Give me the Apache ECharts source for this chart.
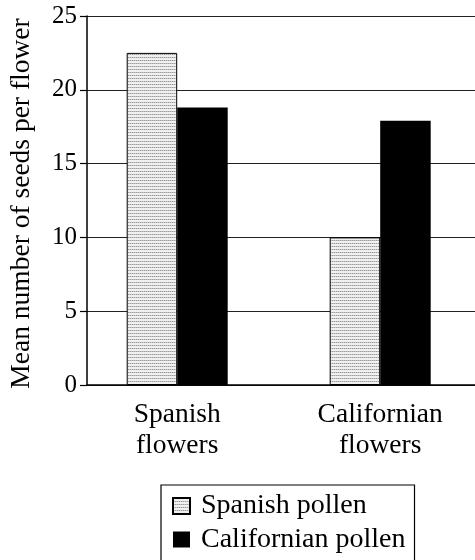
<!DOCTYPE html>
<html>
<head>
<meta charset="utf-8">
<script src="https://cdn.jsdelivr.net/npm/echarts@6/dist/echarts.min.js"></script>
<style>html,body{margin:0;padding:0;background:#fff}#c{width:475px;height:560px}</style>
</head>
<body>
<div id="c"></div>
<script>
const categories = ['Spanish\nflowers', 'Californian\nflowers'];
const spanishPollen = [22.5, 10.0];
const californianPollen = [18.8, 17.9];
const seriesNames = ['Spanish pollen', 'Californian pollen'];
const yTitle = 'Mean number of seeds per flower';
const yMin = 0, yMax = 25, yStep = 5;

const FONT = 'Liberation Serif';

// horizontal hatch pattern
const pc = document.createElement('canvas');
pc.width = 2; pc.height = 3;
const px = pc.getContext('2d');
px.fillStyle = '#f0f0f0'; px.fillRect(0, 0, 2, 3);
px.fillStyle = '#9a9a9a'; px.fillRect(0, 0, 2, 1);
px.fillStyle = '#c8c8c8'; px.fillRect(1, 0, 1, 1);

const chart = echarts.init(document.getElementById('c'), null, {renderer: 'canvas'});
chart.setOption({
  animation: false,
  backgroundColor: '#fff',
  grid: [
    {left: 87, right: 0, top: 16, bottom: 175, outerBoundsMode: 'none', containLabel: false},
    {left: 75.7, right: -6.7, top: 16, bottom: 175, outerBoundsMode: 'none', containLabel: false}
  ],
  xAxis: [
    {gridIndex: 0, type: 'value', min: 0, max: 1,
     axisLine: {show: true, onZero: false, lineStyle: {color: '#000', width: 1.5}},
     axisTick: {show: false}, axisLabel: {show: false}, splitLine: {show: false}},
    {gridIndex: 1, type: 'category', data: categories,
     axisLine: {show: false}, axisTick: {show: false},
     axisLabel: {color: '#000', fontFamily: FONT, fontSize: 27.5, lineHeight: 31, margin: 14}}
  ],
  yAxis: [
    {gridIndex: 0, type: 'value', min: yMin, max: yMax, interval: yStep,
     name: yTitle, nameLocation: 'middle', nameRotate: 90, nameGap: 51,
     nameTextStyle: {color: '#000', fontFamily: FONT, fontSize: 27.5, padding: [0, 6, 0, 0]},
     axisLine: {show: true, lineStyle: {color: '#000', width: 1.5}},
     axisTick: {show: true, length: 7, lineStyle: {color: '#000', width: 1.2}},
     axisLabel: {color: '#000', fontFamily: FONT, fontSize: 25, margin: 10},
     splitLine: {show: true, lineStyle: {color: '#222', width: 1.2}}},
    {gridIndex: 1, type: 'value', min: yMin, max: yMax, interval: yStep, show: false}
  ],
  legend: {
    orient: 'vertical', left: 161, top: 485, height: 120,
    padding: [7, 9, 20, 11],
    borderColor: '#000', borderWidth: 1.2,
    itemWidth: 17, itemHeight: 16, itemGap: 5.5,
    icon: 'rect',
    textStyle: {color: '#000', fontFamily: FONT, fontSize: 28, lineHeight: 27, padding: [0, 0, 0, 6]},
    data: seriesNames
  },
  series: [
    {name: seriesNames[0], type: 'bar', xAxisIndex: 1, yAxisIndex: 1,
     data: spanishPollen, barWidth: 50.5, barGap: '0%',
     itemStyle: {color: {image: pc, repeat: 'repeat'}, borderColor: '#000', borderWidth: 1}},
    {name: seriesNames[1], type: 'bar', xAxisIndex: 1, yAxisIndex: 1,
     data: californianPollen, barWidth: 50.5, barGap: '0%',
     itemStyle: {color: '#000', borderColor: '#000', borderWidth: 0}}
  ]
});
</script>
</body>
</html>
